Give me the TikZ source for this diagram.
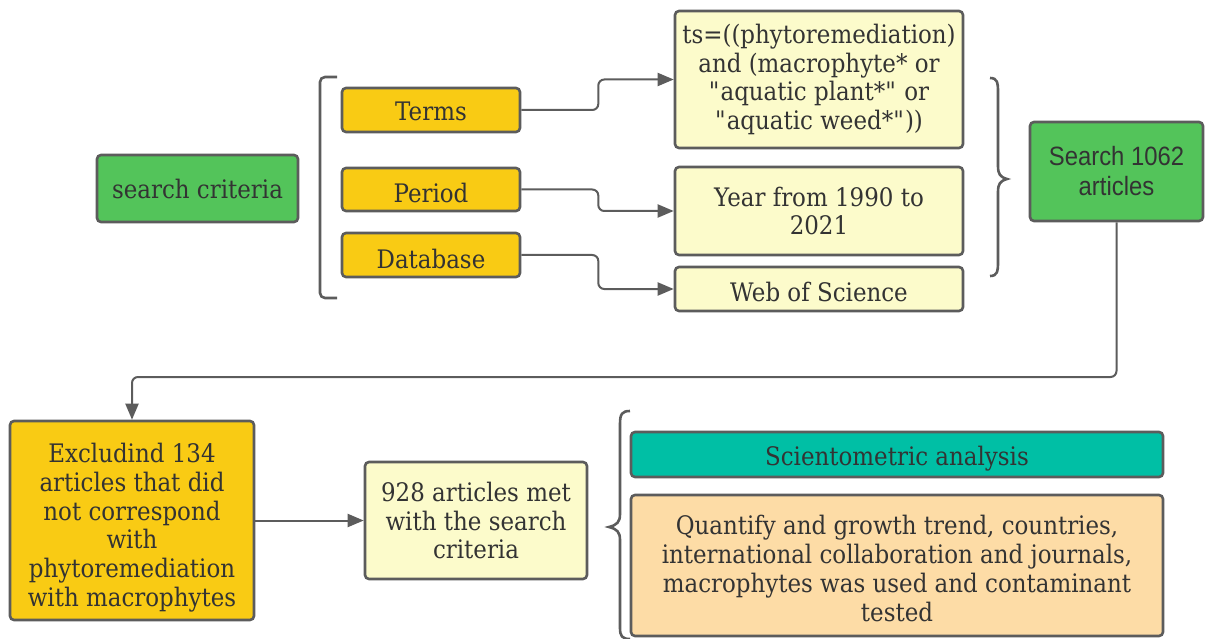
\documentclass[tikz,border=0pt]{standalone}
\usepackage{fontspec}
\setmainfont{DejaVu Serif}[FakeStretch=0.9]
\newfontfamily\sansf{Liberation Sans}[FakeStretch=0.9]
\usetikzlibrary{arrows.meta}
\definecolor{bordc}{HTML}{5C5C5C}
\definecolor{txtc}{HTML}{333333}
\definecolor{grn}{HTML}{53C45A}
\definecolor{gold}{HTML}{F9CB14}
\definecolor{pale}{HTML}{FCFBCB}
\definecolor{teal}{HTML}{00BFA5}
\definecolor{peach}{HTML}{FDDCA6}
\newcommand{\dq}{\textquotedbl}
\tikzset{
  box/.style={draw=bordc, line width=2.6pt, rounded corners=4pt, align=center,
    text=txtc, inner sep=0pt, font=\fontsize{25.5}{28.7}\selectfont},
  txt/.style={align=center, text=txtc, inner sep=0pt, font=\fontsize{25.5}{28.7}\selectfont},
  conn/.style={draw=bordc, line width=2pt, rounded corners=6pt,
    -{Triangle[length=16pt,width=13pt]}},
  plain/.style={draw=bordc, line width=2.6pt},
}
\begin{document}
\begin{tikzpicture}[x=1pt,y=-1pt]
\useasboundingbox (0,0) rectangle (1205,639);
\node[box, fill=grn, minimum width=201, minimum height=67] (sc) at (197.5,188.5) {search criteria};
\node[box, fill=gold, minimum width=178, minimum height=44] (terms) at (431,110) {};
\node[txt] (termsT) at ([yshift=-1]terms.center) {Terms};
\node[box, fill=gold, minimum width=178, minimum height=43] (period) at (431,189.5) {};
\node[txt] (periodT) at ([yshift=-3]period.center) {Period};
\node[box, fill=gold, minimum width=178, minimum height=44] (database) at (431,255) {};
\node[txt] (databaseT) at ([yshift=-4]database.center) {Database};
\node[box, fill=pale, minimum width=288, minimum height=137] (ts) at (819,79.5)
  {ts=((phytoremediation)\\and (macrophyte* or\\\dq aquatic plant*\dq{} or\\\dq aquatic weed*\dq))};
\node[box, fill=pale, minimum width=288, minimum height=88] (year) at (819,211) {Year from 1990 to\\2021};
\node[box, fill=pale, minimum width=288, minimum height=44] (wos) at (819,289) {};
\node[txt] (wosT) at ([yshift=-3]wos.center) {Web of Science};
\node[box, fill=grn, minimum width=173, minimum height=99, font=\sansf\fontsize{26.5}{30}\selectfont] (search) at (1116.5,171.5) {Search 1062\\articles};
\node[box, fill=gold, minimum width=244, minimum height=199] (excl) at (132,520.5) {};
\node[txt] (exclT) at ([yshift=-7]excl.center)
  {Excludind 134\\articles that did\\not correspond\\with\\phytoremediation\\with macrophytes};
\node[box, fill=pale, minimum width=222, minimum height=117] (met) at (476,520.5)
  {928 articles met\\with the search\\criteria};
\node[box, fill=teal, minimum width=532, minimum height=45] (sci) at (897,454.5) {};
\node[txt] (sciT) at ([yshift=-4]sci.center) {Scientometric analysis};
\node[box, fill=peach, minimum width=532, minimum height=141] (quant) at (897,565.5) {};
\node[txt] (quantT) at ([yshift=-3]quant.center)
  {Quantify and growth trend, countries,\\international collaboration and journals,\\macrophytes was used and contaminant\\tested};
% bracket
\draw[plain, rounded corners=5pt] (337,77) -- (320,77) -- (320,298) -- (337,298);
% right brace
\draw[plain] (990,78) .. controls (997,78) and (998,82) .. (998,92) -- (998,166)
  .. controls (998,174) and (1000,177) .. (1007,179)
  .. controls (1000,181) and (998,184) .. (998,192) -- (998,262)
  .. controls (998,272) and (997,276) .. (990,276);
% left brace
\draw[plain] (630,411) .. controls (622,411) and (620,414) .. (620,424) -- (620,514)
  .. controls (620,522) and (617,525) .. (609,527)
  .. controls (617,529) and (620,532) .. (620,540) -- (620,628)
  .. controls (620,636) and (622,639) .. (630,639);
% connectors
\draw[conn] (terms.east) -- ++(77,0) |- (ts.west);
\draw[conn] (period.east) -- ++(77,0) |- (year.west);
\draw[conn] (database.east) -- ++(77,0) |- (wos.west);
\draw[conn] (search.south) -- (search.south |- 0,377) -| (excl.north);
\draw[conn] (excl.east) -- (met.west);
\end{tikzpicture}
\end{document}
